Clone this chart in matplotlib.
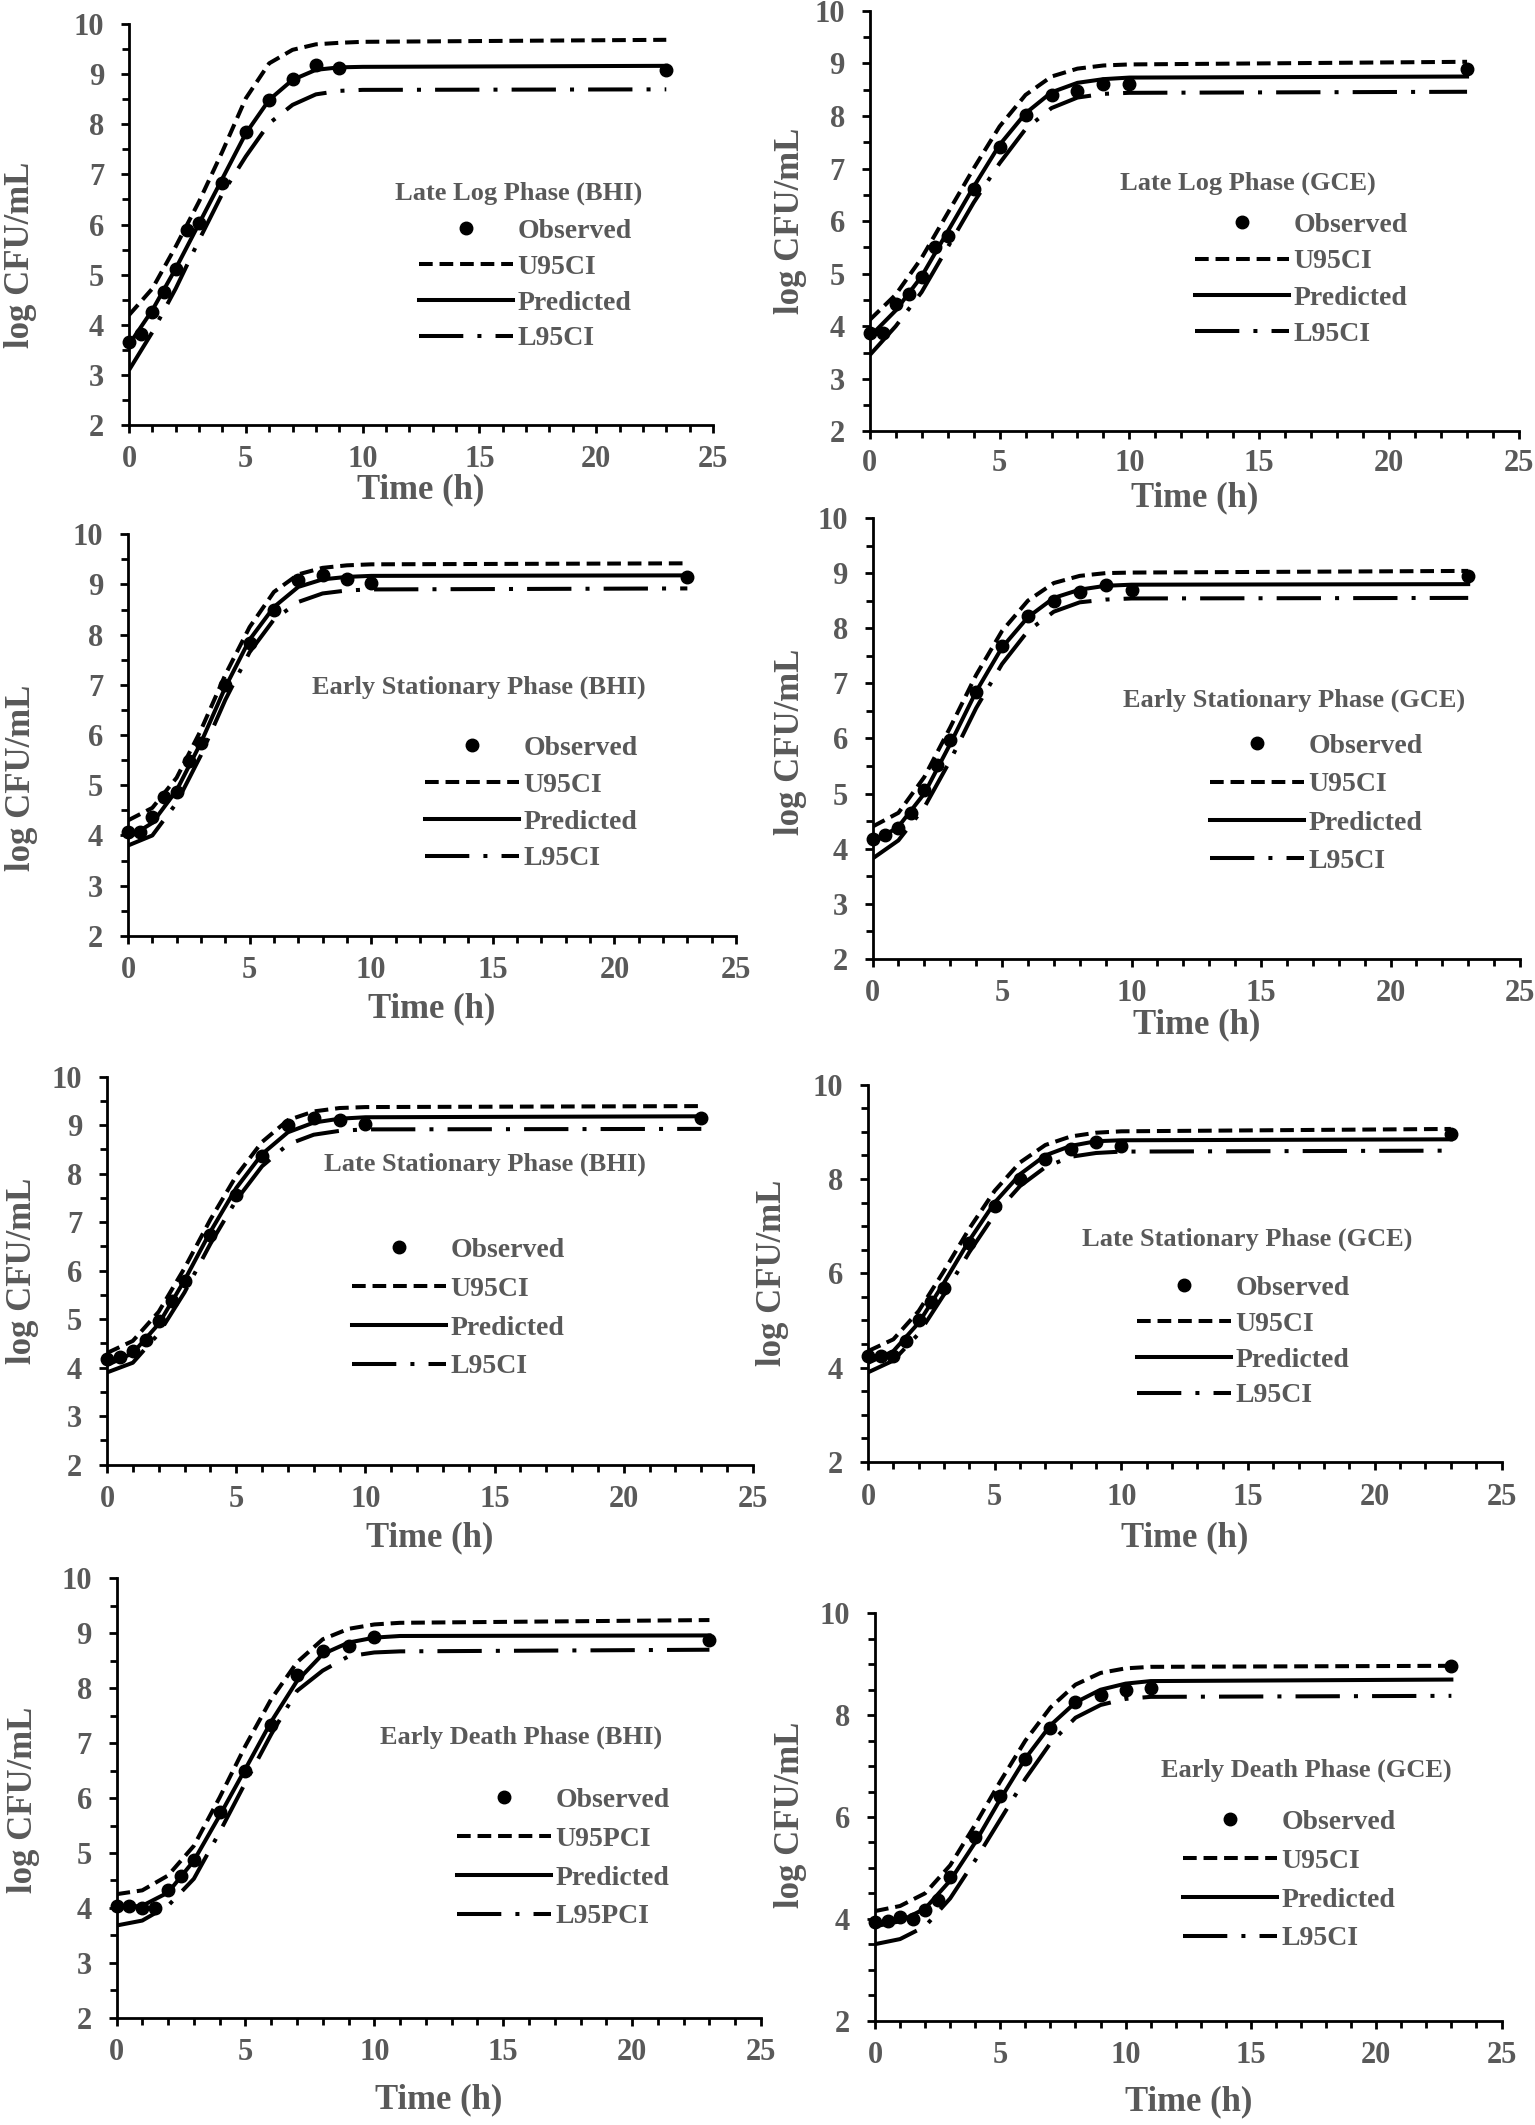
import matplotlib
matplotlib.use("Agg")
import matplotlib.pyplot as plt
from matplotlib.ticker import MultipleLocator
from matplotlib.lines import Line2D

plt.rcParams['font.family'] = ['Liberation Serif', 'DejaVu Serif']
plt.rcParams['font.weight'] = 'bold'
plt.rcParams['axes.labelweight'] = 'bold'

GRAY = '#595959'
W, H, DPI = 1535, 2125, 100

# ------------------------------------------------------------------ data
titles = ["Late Log Phase (BHI)", "Late Log Phase (GCE)",
          "Early Stationary Phase (BHI)", "Early Stationary Phase (GCE)",
          "Late Stationary Phase (BHI)", "Late Stationary Phase (GCE)",
          "Early Death Phase (BHI)", "Early Death Phase (GCE)"]
upper_names = ["U95CI"] * 6 + ["U95PCI", "U95CI"]
lower_names = ["L95CI"] * 6 + ["L95PCI", "L95CI"]

t_fit_a = [0, 1, 2, 3, 4, 5, 6, 7, 8, 9, 10, 23]
t_fit_b = [0, 1, 2, 3, 4, 5, 6, 7, 8, 9, 10, 11, 23]

t_obs_1 = [0, 0.5, 1, 1.5, 2, 2.5, 3, 4, 5, 6, 7, 8, 9, 23]
obs_1 = [3.66, 3.81, 4.26, 4.66, 5.12, 5.89, 6.02, 6.83, 7.85, 8.49, 8.90, 9.19, 9.13, 9.09]
pred_1 = [3.60, 4.29, 5.12, 6.02, 6.92, 7.82, 8.49, 8.89, 9.09, 9.14, 9.15, 9.17]
upper_1 = [4.19, 4.72, 5.56, 6.46, 7.46, 8.52, 9.22, 9.49, 9.60, 9.63, 9.65, 9.69]
lower_1 = [3.09, 3.85, 4.72, 5.69, 6.62, 7.36, 8.02, 8.39, 8.60, 8.67, 8.69, 8.70]

t_obs_2 = [0, 0.5, 1, 1.5, 2, 2.5, 3, 4, 5, 6, 7, 8, 9, 10, 23]
obs_2 = [3.87, 3.87, 4.43, 4.62, 4.94, 5.51, 5.71, 6.62, 7.41, 8.01, 8.39, 8.48, 8.61, 8.61, 8.89]
pred_2 = [3.80, 4.30, 4.95, 5.80, 6.65, 7.45, 8.05, 8.45, 8.63, 8.70, 8.73, 8.75]
upper_2 = [4.12, 4.60, 5.30, 6.15, 7.00, 7.80, 8.40, 8.75, 8.90, 8.96, 8.98, 9.03]
lower_2 = [3.45, 4.00, 4.65, 5.50, 6.35, 7.10, 7.75, 8.15, 8.35, 8.42, 8.44, 8.46]

t_obs_3 = [0, 0.5, 1, 1.5, 2, 2.5, 3, 4, 5, 6, 7, 8, 9, 10, 23]
obs_3 = [4.06, 4.06, 4.37, 4.76, 4.86, 5.49, 5.85, 6.99, 7.84, 8.49, 9.08, 9.18, 9.11, 9.02, 9.15]
pred_3 = [3.95, 4.25, 4.90, 5.85, 6.95, 7.90, 8.55, 8.95, 9.10, 9.15, 9.17, 9.18]
upper_3 = [4.30, 4.55, 5.15, 6.10, 7.20, 8.15, 8.85, 9.20, 9.33, 9.38, 9.40, 9.42]
lower_3 = [3.80, 4.00, 4.65, 5.60, 6.70, 7.65, 8.30, 8.65, 8.82, 8.88, 8.90, 8.92]

t_obs_4 = [0, 0.5, 1, 1.5, 2, 2.5, 3, 4, 5, 6, 7, 8, 9, 10, 23]
obs_4 = [4.18, 4.25, 4.38, 4.64, 5.06, 5.51, 5.97, 6.84, 7.68, 8.23, 8.49, 8.65, 8.78, 8.70, 8.94]
pred_4 = [4.10, 4.40, 5.00, 5.90, 6.85, 7.65, 8.20, 8.55, 8.70, 8.77, 8.79, 8.80]
upper_4 = [4.40, 4.65, 5.30, 6.20, 7.15, 7.95, 8.50, 8.82, 8.95, 9.00, 9.01, 9.04]
lower_4 = [3.82, 4.15, 4.75, 5.60, 6.55, 7.35, 7.95, 8.30, 8.47, 8.52, 8.54, 8.55]

t_obs_5 = [0, 0.5, 1, 1.5, 2, 2.5, 3, 4, 5, 6, 7, 8, 9, 10, 23]
obs_5 = [4.17, 4.21, 4.35, 4.56, 4.95, 5.37, 5.79, 6.74, 7.55, 8.37, 9.01, 9.14, 9.11, 9.03, 9.14]
pred_5 = [4.05, 4.30, 4.90, 5.80, 6.80, 7.70, 8.40, 8.85, 9.05, 9.13, 9.16, 9.18]
upper_5 = [4.30, 4.55, 5.15, 6.05, 7.05, 7.95, 8.65, 9.10, 9.28, 9.35, 9.37, 9.39]
lower_5 = [3.90, 4.10, 4.70, 5.55, 6.55, 7.45, 8.15, 8.60, 8.80, 8.88, 8.91, 8.92]

t_obs_6 = [0, 0.5, 1, 1.5, 2, 2.5, 3, 4, 5, 6, 7, 8, 9, 10, 23]
obs_6 = [4.25, 4.25, 4.25, 4.57, 5.00, 5.39, 5.68, 6.64, 7.43, 8.00, 8.43, 8.64, 8.79, 8.69, 8.95]
pred_6 = [4.10, 4.35, 4.95, 5.80, 6.70, 7.50, 8.10, 8.50, 8.70, 8.80, 8.82, 8.84]
upper_6 = [4.35, 4.60, 5.20, 6.05, 6.95, 7.75, 8.35, 8.72, 8.90, 8.98, 9.01, 9.06]
lower_6 = [3.90, 4.15, 4.72, 5.55, 6.45, 7.25, 7.85, 8.25, 8.47, 8.55, 8.58, 8.60]

t_obs_7 = [0, 0.5, 1, 1.5, 2, 2.5, 3, 4, 5, 6, 7, 8, 9, 10, 23]
obs_7 = [4.03, 4.03, 3.99, 3.99, 4.33, 4.58, 4.87, 5.74, 6.50, 7.33, 8.24, 8.68, 8.76, 8.94, 8.88]
pred_7 = [4.00, 4.04, 4.28, 4.86, 5.68, 6.53, 7.39, 8.13, 8.62, 8.83, 8.92, 8.95, 8.96]
upper_7 = [4.25, 4.32, 4.59, 5.13, 6.01, 6.95, 7.80, 8.47, 8.89, 9.08, 9.16, 9.19, 9.24]
lower_7 = [3.68, 3.77, 4.04, 4.53, 5.38, 6.28, 7.16, 7.95, 8.32, 8.58, 8.65, 8.67, 8.70]

t_obs_8 = [0, 0.5, 1, 1.5, 2, 2.5, 3, 4, 5, 6, 7, 8, 9, 10, 11, 23]
obs_8 = [3.93, 3.96, 4.03, 4.00, 4.17, 4.37, 4.82, 5.60, 6.42, 7.14, 7.75, 8.26, 8.40, 8.50, 8.53, 8.96]
pred_8 = [3.85, 3.95, 4.20, 4.75, 5.50, 6.35, 7.15, 7.80, 8.25, 8.50, 8.62, 8.67, 8.70]
upper_8 = [4.15, 4.25, 4.50, 5.05, 5.85, 6.70, 7.50, 8.15, 8.60, 8.83, 8.92, 8.95, 8.97]
lower_8 = [3.50, 3.60, 3.85, 4.40, 5.15, 5.95, 6.75, 7.45, 7.95, 8.20, 8.32, 8.36, 8.38]

t_obs_all = [t_obs_1, t_obs_2, t_obs_3, t_obs_4, t_obs_5, t_obs_6, t_obs_7, t_obs_8]
obs_all = [obs_1, obs_2, obs_3, obs_4, obs_5, obs_6, obs_7, obs_8]
t_fit_all = [t_fit_a] * 6 + [t_fit_b, t_fit_b]
pred_all = [pred_1, pred_2, pred_3, pred_4, pred_5, pred_6, pred_7, pred_8]
upper_all = [upper_1, upper_2, upper_3, upper_4, upper_5, upper_6, upper_7, upper_8]
lower_all = [lower_1, lower_2, lower_3, lower_4, lower_5, lower_6, lower_7, lower_8]
y_major = [1, 1, 1, 1, 1, 2, 1, 2]

# ------------------------------------------------------------------ layout (pixels)
axes_px = [  # left, right, top, bottom
    (129, 713, 24.3, 424.7), (869.7, 1519, 10.8, 431.4),
    (128, 736, 534.2, 935.9), (872.5, 1520, 518, 958.9),
    (107, 753, 1076.5, 1464.6), (868, 1501.5, 1084.6, 1462),
    (116.5, 761, 1578.3, 2017.8), (875, 1501.5, 1613.4, 2020.5)]
title_px = [(519, 193), (1248, 183), (479, 687), (1294, 700),
            (485, 1164), (1247, 1239), (521, 1737), (1306, 1770)]
legend_px = [(419, 231, 35), (1195, 225, 35.5), (425, 748, 36), (1210, 746, 37.5),
             (352, 1250, 38), (1137, 1288, 35), (457, 1800, 38), (1183, 1822, 38)]
ylabel_px = [(37, 255), (807, 221), (38, 778), (807, 742),
             (39, 1271), (789, 1273), (40, 1800), (807, 1815)]
xlabel_py = [490, 498, 1009, 1025, 1538, 1538, 2100, 2102]
xtick_pad = [9, 7, 9, 9, 9, 9, 9, 9]

TICK_FS = 22
LABEL_FS = 25
LEG_FS = 20
LW = 2.9
MS = 9
DASH_U = (0, (3.4, 1.7))
DASH_L = (0, (11, 3.5, 1.0, 3.5))

fig = plt.figure(figsize=(W / DPI, H / DPI), dpi=DPI)

for i in range(8):
    L, R, T, B = axes_px[i]
    ax = fig.add_axes([L / W, 1 - B / H, (R - L) / W, (B - T) / H])
    tf = t_fit_all[i]
    ax.plot(tf, upper_all[i], color='black', lw=LW, linestyle=DASH_U, zorder=2)
    ax.plot(tf, lower_all[i], color='black', lw=LW, linestyle=DASH_L, zorder=2)
    ax.plot(tf, pred_all[i], color='black', lw=LW, linestyle='-', zorder=3)
    ax.plot(t_obs_all[i], obs_all[i], linestyle='none', marker='o', ms=MS,
            color='black', zorder=4, clip_on=False)

    ax.set_xlim(0, 25)
    ax.set_ylim(2, 10)
    ax.xaxis.set_major_locator(MultipleLocator(5))
    ax.xaxis.set_minor_locator(MultipleLocator(1))
    ax.yaxis.set_major_locator(MultipleLocator(y_major[i]))
    ax.yaxis.set_minor_locator(MultipleLocator(0.5))
    for s in ('top', 'right'):
        ax.spines[s].set_visible(False)
    for s in ('left', 'bottom'):
        ax.spines[s].set_linewidth(2.0)
        ax.spines[s].set_color('black')
    ax.tick_params(which='major', direction='out', length=5.8, width=2.0,
                   color='black', labelcolor=GRAY, labelsize=TICK_FS)
    ax.tick_params(which='minor', direction='out', length=5, width=2.0, color='black')
    ax.tick_params(axis='x', which='major', pad=xtick_pad[i])
    ax.tick_params(axis='y', which='major', pad=12)
    for lab in ax.get_xticklabels() + ax.get_yticklabels():
        lab.set_fontweight('bold')

    ax.set_xlabel("Time (h)", fontsize=LABEL_FS, color=GRAY, fontweight='bold')
    ax.set_ylabel("log CFU/mL", fontsize=LABEL_FS, color=GRAY, fontweight='bold')
    ax.xaxis.label.set_va('center')
    ax.xaxis.set_label_coords(0.5, (B - xlabel_py[i]) / (B - T))
    yx, yy = ylabel_px[i]
    ax.yaxis.set_label_coords((yx - L) / (R - L), (B - yy) / (B - T))

    tx, ty = title_px[i]
    ax.text((tx - L) / (R - L), (B - ty) / (B - T), titles[i], transform=ax.transAxes,
            ha='center', va='center', fontsize=19, color=GRAY, fontweight='bold')

    lx, ly, sp = legend_px[i]
    fs_px = LEG_FS * DPI / 72.0
    row_h = 0.89 * fs_px
    handles = [
        Line2D([], [], linestyle='none', marker='o', ms=MS, color='black'),
        Line2D([], [], color='black', lw=LW, linestyle=DASH_U),
        Line2D([], [], color='black', lw=LW, linestyle='-'),
        Line2D([], [], color='black', lw=LW, linestyle=DASH_L),
    ]
    labels = ["Observed", upper_names[i], "Predicted", lower_names[i]]
    leg = ax.legend(handles, labels, loc='upper left',
                    bbox_to_anchor=(lx / W, 1 - (ly - row_h / 2) / H),
                    bbox_transform=fig.transFigure, frameon=False,
                    borderpad=0, borderaxespad=0, handlelength=3.4,
                    handletextpad=0.15, labelspacing=(sp - row_h) / fs_px,
                    prop={'family': 'Liberation Serif', 'weight': 'bold', 'size': LEG_FS})
    for txt in leg.get_texts():
        txt.set_color(GRAY)

fig.savefig("out.png", dpi=DPI)
